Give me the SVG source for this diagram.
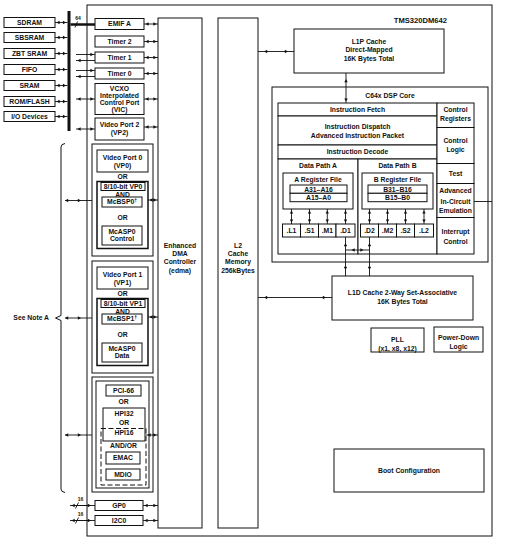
<svg xmlns="http://www.w3.org/2000/svg" width="506" height="544" viewBox="0 0 506 544">
<defs>
<marker id="a" markerUnits="userSpaceOnUse" orient="auto-start-reverse" overflow="visible" markerWidth="1" markerHeight="1" refX="0" refY="0"><path d="M-4.6,-1.7 L-1.4,0 L-4.6,1.7z" fill="#111" stroke="none"/></marker>
<marker id="A" markerUnits="userSpaceOnUse" orient="auto-start-reverse" overflow="visible" markerWidth="1" markerHeight="1" refX="0" refY="0"><path d="M-9.2,-1.7 L-6,0 L-9.2,1.7z" fill="#111" stroke="none"/></marker>
<marker id="z" markerUnits="userSpaceOnUse" orient="auto-start-reverse" overflow="visible" markerWidth="1" markerHeight="1" refX="0" refY="0"><path d="M-3.2,-1.7 L0,0 L-3.2,1.7z" fill="#111" stroke="none"/></marker>
</defs>
<style>
.b{fill:#fff;stroke:#111;stroke-width:1}
.n{fill:none;stroke:#111;stroke-width:1}
.fr{fill:#fff;stroke:#111;stroke-width:1.5}
.d{fill:none;stroke:#111;stroke-width:1;stroke-dasharray:5 2.5}
text{font-family:"Liberation Sans",Arial,Helvetica,sans-serif;font-size:6.8px;font-weight:bold;fill:#111;text-anchor:middle}
.l{text-anchor:end}
.s{font-size:5px}
#connectors path{fill:none;stroke:#111;stroke-width:0.9}
#connectors .bus{stroke-width:3}
#connectors .th{stroke-width:2.5}
.ab{marker-start:url(#a);marker-end:url(#a)}
.AB{marker-start:url(#A);marker-end:url(#A)}
.zb{marker-start:url(#z);marker-end:url(#z)}
</style>

<g id="chip"><rect class="n" x="87" y="5" width="405" height="531"/><text class="l" x="447" y="23" style="font-size:7.6px">TMS320DM642</text></g>

<g id="sdram"><rect class="b" x="4" y="17.5" width="51" height="10"/><text x="29.5" y="24.9">SDRAM</text></g>
<g id="sbsram"><rect class="b" x="4" y="32.5" width="51" height="10"/><text x="29.5" y="39.9">SBSRAM</text></g>
<g id="zbtsram"><rect class="b" x="4" y="48.5" width="51" height="10"/><text x="29.5" y="55.9">ZBT SRAM</text></g>
<g id="fifo"><rect class="b" x="4" y="64.5" width="51" height="10"/><text x="29.5" y="71.9">FIFO</text></g>
<g id="sram"><rect class="b" x="4" y="80.5" width="51" height="10"/><text x="29.5" y="87.9">SRAM</text></g>
<g id="romflash"><rect class="b" x="4" y="96.5" width="51" height="10"/><text x="29.5" y="103.9">ROM/FLASH</text></g>
<g id="iodevices"><rect class="b" x="4" y="111.5" width="51" height="10"/><text x="29.5" y="118.9">I/O Devices</text></g>

<g id="emifa"><rect class="b" x="95" y="18.5" width="49" height="11"/><text x="119.5" y="26.4">EMIF A</text></g>
<g id="timer2"><rect class="b" x="95" y="36" width="49" height="11"/><text x="119.5" y="43.9">Timer 2</text></g>
<g id="timer1"><rect class="b" x="95" y="52" width="49" height="11"/><text x="119.5" y="59.9">Timer 1</text></g>
<g id="timer0"><rect class="b" x="95" y="68" width="49" height="11"/><text x="119.5" y="75.9">Timer 0</text></g>
<g id="vcxo"><rect class="b" x="95" y="83.5" width="49" height="31"/><text x="119.5" y="91.4">VCXO</text><text x="119.5" y="98.4">Interpolated</text><text x="119.5" y="105.4">Control Port</text><text x="119.5" y="112.4">(VIC)</text></g>
<g id="vp2"><rect class="b" x="95" y="118" width="49" height="22"/><text x="119.5" y="127.4">Video Port 2</text><text x="119.5" y="135.4">(VP2)</text></g>

<g id="vp0-group">
<rect class="b" x="92" y="144" width="61" height="112"/>
<rect class="b" x="97" y="150" width="51" height="22"/>
<text x="122.5" y="159.8">Video Port 0</text><text x="122.5" y="167.8">(VP0)</text>
<text x="122.5" y="179.4">OR</text>
<rect class="fr" x="97" y="181.5" width="51" height="67"/>
<rect class="b" x="101" y="182.5" width="44" height="8"/><text x="123" y="188.9">8/10-bit VP0</text>
<text x="122.5" y="197.4">AND</text>
<rect class="b" x="102" y="197" width="40" height="10"/><text x="122" y="204.4">McBSP0<tspan class="s" dy="-2.5">†</tspan></text>
<text x="122.5" y="220.4">OR</text>
<rect class="b" x="102" y="226" width="40" height="19"/><text x="122" y="234.4">McASP0</text><text x="122" y="240.9">Control</text>
</g>

<g id="vp1-group">
<rect class="b" x="92" y="261" width="61" height="112"/>
<rect class="b" x="97" y="267" width="51" height="22"/>
<text x="122.5" y="276.8">Video Port 1</text><text x="122.5" y="284.8">(VP1)</text>
<text x="122.5" y="296.4">OR</text>
<rect class="fr" x="97" y="298.5" width="51" height="67"/>
<rect class="b" x="101" y="299.5" width="44" height="8"/><text x="123" y="305.9">8/10-bit VP1</text>
<text x="122.5" y="314.4">AND</text>
<rect class="b" x="102" y="314" width="40" height="10"/><text x="122" y="321.4">McBSP1<tspan class="s" dy="-2.5">†</tspan></text>
<text x="122.5" y="337.4">OR</text>
<rect class="b" x="102" y="343" width="40" height="19"/><text x="122" y="351.4">McASP0</text><text x="122" y="357.9">Data</text>
</g>

<g id="pci-group">
<rect class="b" x="92" y="377" width="61" height="115"/>
<rect class="b" x="96" y="381" width="53" height="107"/>
<rect class="b" x="106" y="385" width="35" height="11"/><text x="123.5" y="392.9">PCI-66</text>
<text x="123.5" y="404.4">OR</text>
<rect class="b" x="103" y="408" width="42" height="33"/><text x="124" y="415.9">HPI32</text><text x="124" y="425.4">OR</text><text x="124" y="434.9">HPI16</text>
<rect class="d" x="101" y="428.5" width="45" height="56.5"/>
<text x="123.5" y="448.4">AND/OR</text>
<rect class="b" x="106" y="452" width="34" height="12"/><text x="123" y="460.4">EMAC</text>
<rect class="b" x="106" y="469" width="34" height="11"/><text x="123" y="476.9">MDIO</text>
</g>

<g id="gp0"><rect class="b" x="95" y="500.5" width="48" height="10"/><text x="119" y="507.9">GP0</text></g>
<g id="i2c0"><rect class="b" x="95" y="515.5" width="48" height="10"/><text x="119" y="522.9">I2C0</text></g>

<g id="edma"><rect class="b" x="158" y="18" width="44" height="510"/><text x="180" y="248.4">Enhanced</text><text x="180" y="256.4">DMA</text><text x="180" y="264.4">Controller</text><text x="180" y="272.9">(edma)</text></g>
<g id="l2"><rect class="b" x="218" y="18" width="40" height="510"/><text x="238" y="248.4">L2</text><text x="238" y="256.4">Cache</text><text x="238" y="264.4">Memory</text><text x="238" y="272.9">256kBytes</text></g>

<g id="l1p"><rect class="b" x="294" y="29" width="150" height="44"/><text x="369" y="44.1">L1P Cache</text><text x="369" y="52.4">Direct-Mapped</text><text x="369" y="60.7">16K Bytes Total</text></g>

<g id="dsp-core"><rect class="b" x="272" y="87" width="216" height="175"/><text x="390" y="97.6">C64x DSP Core</text></g>
<g id="instruction-fetch"><rect class="b" x="278" y="103" width="159" height="13"/><text x="357.5" y="111.9">Instruction Fetch</text></g>
<g id="instruction-dispatch"><rect class="b" x="278" y="116" width="159" height="29"/><text x="357.5" y="129.4">Instruction Dispatch</text><text x="357.5" y="138">Advanced Instruction Packet</text></g>
<g id="instruction-decode"><rect class="b" x="278" y="145" width="159" height="14"/><text x="357.5" y="154.4">Instruction Decode</text></g>
<g id="data-path-a"><rect class="b" x="278" y="159" width="80" height="95"/><text x="318" y="168.4">Data Path A</text>
<rect class="b" x="283" y="173" width="70" height="36"/><text x="318" y="181.9">A Register File</text>
<rect class="b" x="290" y="185" width="57" height="8.3"/><text x="318.5" y="191.5">A31–A16</text>
<rect class="b" x="290" y="193.3" width="57" height="8.4"/><text x="318.5" y="199.9">A15–A0</text>
<rect class="b" x="282.5" y="224" width="18" height="13"/><text x="291.5" y="232.9">.L1</text>
<rect class="b" x="300.5" y="224" width="18" height="13"/><text x="309.5" y="232.9">.S1</text>
<rect class="b" x="318.5" y="224" width="17.5" height="13"/><text x="327.3" y="232.9">.M1</text>
<rect class="b" x="336" y="224" width="19" height="13"/><text x="345.5" y="232.9">.D1</text>
</g>
<g id="data-path-b"><rect class="b" x="358" y="159" width="79" height="95"/><text x="397.5" y="168.4">Data Path B</text>
<rect class="b" x="362" y="173" width="71" height="36"/><text x="397.5" y="181.9">B Register File</text>
<rect class="b" x="368" y="185" width="59" height="8.3"/><text x="397.5" y="191.5">B31–B16</text>
<rect class="b" x="368" y="193.3" width="59" height="8.4"/><text x="397.5" y="199.9">B15–B0</text>
<rect class="b" x="360.5" y="224" width="18" height="13"/><text x="369.5" y="232.9">.D2</text>
<rect class="b" x="378.5" y="224" width="18" height="13"/><text x="387.5" y="232.9">.M2</text>
<rect class="b" x="396.5" y="224" width="18" height="13"/><text x="405.5" y="232.9">.S2</text>
<rect class="b" x="414.5" y="224" width="19" height="13"/><text x="424" y="232.9">.L2</text>
</g>
<g id="control-registers"><rect class="b" x="437" y="103" width="37" height="24.5"/><text x="455.5" y="112.4">Control</text><text x="455.5" y="121.4">Registers</text></g>
<g id="control-logic"><rect class="b" x="437" y="127.5" width="37" height="36"/><text x="455.5" y="143.1">Control</text><text x="455.5" y="152.4">Logic</text></g>
<g id="test"><rect class="b" x="437" y="163.5" width="37" height="20"/><text x="455.5" y="176.4">Test</text></g>
<g id="emulation"><rect class="b" x="437" y="183.5" width="37" height="34"/><text x="455.5" y="193.4">Advanced</text><text x="455.5" y="203.9">In-Circuit</text><text x="455.5" y="213.4">Emulation</text></g>
<g id="interrupt-control"><rect class="b" x="437" y="217.5" width="37" height="36.5"/><text x="455.5" y="233.9">Interrupt</text><text x="455.5" y="243.9">Control</text></g>

<g id="l1d"><rect class="b" x="332" y="276" width="141" height="44"/><text x="402.5" y="295.4">L1D Cache 2-Way Set-Associative</text><text x="402.5" y="304.4">16K Bytes Total</text></g>
<g id="pll"><rect class="b" x="371" y="328" width="53" height="24"/><text x="397.5" y="341.9">PLL</text><text x="397.5" y="350.9">(x1, x8, x12)</text></g>
<g id="power-down"><rect class="b" x="434" y="327" width="49" height="25"/><text x="458.5" y="339.7">Power-Down</text><text x="458.5" y="348.7">Logic</text></g>
<g id="boot-config"><rect class="b" x="334" y="449" width="150" height="43"/><text x="409" y="472.9">Boot Configuration</text></g>

<g id="note"><path class="n" d="M65,143.5 Q61,144 61,147 V315.5 L55.5,318 L61,320.5 V489 Q61,492 65,492.5"/><text class="l" x="49" y="320.4">See Note A</text></g>

<g id="connectors">
<path class="bus" d="M69,11 V131"/>
<path class="ab" d="M55,22.5 H67.5"/>
<path class="ab" d="M55,37.5 H67.5"/>
<path class="ab" d="M55,53.5 H67.5"/>
<path class="ab" d="M55,69.5 H67.5"/>
<path class="ab" d="M55,85.5 H67.5"/>
<path class="ab" d="M55,101.5 H67.5"/>
<path class="ab" d="M55,116.5 H67.5"/>
<path class="th" d="M70.5,24.5 H95"/>
<path d="M75,27.5 L77.5,21.5"/>
<text class="s" x="78" y="19.5">64</text>
<path style="marker-end:url(#a)" d="M76,54.5 H95"/>
<path style="marker-start:url(#a)" d="M76,60.5 H95"/>
<path style="marker-end:url(#a)" d="M76,70.5 H95"/>
<path style="marker-start:url(#a)" d="M76,76.5 H95"/>
<path class="ab" d="M76,99 H95"/>
<path class="ab" d="M76,129 H95"/>
<path class="ab" d="M144,24 H158"/>
<path class="ab" d="M144,41.5 H158"/>
<path class="ab" d="M144,57.5 H158"/>
<path class="ab" d="M144,73.5 H158"/>
<path class="ab" d="M144,99 H158"/>
<path class="ab" d="M144,127 H158"/>
<path class="zb" d="M65,200.5 H81"/><path d="M81,200.5 H92"/>
<path class="ab" d="M148,200 H158"/>
<path class="zb" d="M65,318 H81"/><path d="M81,318 H92"/>
<path class="ab" d="M148,317 H158"/>
<path class="zb" d="M65,435 H81"/><path d="M81,435 H92"/>
<path class="ab" d="M146,435 H158"/>
<path d="M70,505.5 H95"/><path class="zb" d="M71.5,505.5 H91"/>
<path d="M75.5,508.5 L78.5,502.5"/><text class="s" x="80.5" y="500.5">16</text>
<path d="M70,520.5 H95"/><path class="zb" d="M71.5,520.5 H91"/>
<path d="M75.5,523.5 L78.5,517.5"/><text class="s" x="80.5" y="515.5">16</text>
<path class="ab" d="M143,505.5 H158"/>
<path class="ab" d="M143,520.5 H158"/>
<path class="AB" d="M258,51.5 H294"/>
<path style="marker-start:url(#A);marker-end:url(#a)" d="M346,73 V103"/>
<path class="ab" d="M291.5,209 V224"/>
<path class="ab" d="M309.5,209 V224"/>
<path class="ab" d="M327.3,209 V224"/>
<path class="ab" d="M345.5,209 V224"/>
<path class="ab" d="M369.5,209 V224"/>
<path class="ab" d="M387.5,209 V224"/>
<path class="ab" d="M405.5,209 V224"/>
<path class="ab" d="M424,209 V224"/>
<path class="AB" d="M345.5,237 V276"/>
<path class="AB" d="M369.5,237 V276"/>
<path class="AB" d="M345.5,250 H369.5"/>
<path class="AB" d="M258,297.5 H332"/>
<path d="M474,201.5 H492"/>
</g>
</svg>
